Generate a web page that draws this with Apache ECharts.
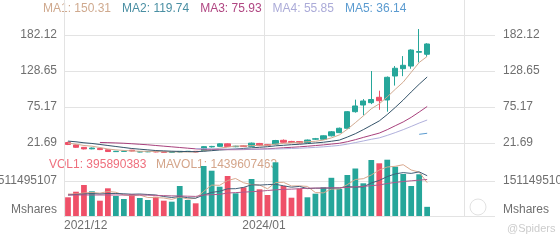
<!DOCTYPE html>
<html><head><meta charset="utf-8">
<script src="https://cdn.jsdelivr.net/npm/echarts@6/dist/echarts.min.js"></script>
<style>html,body{margin:0;padding:0;background:#fff}#c{width:560px;height:240px}</style>
</head><body><div id="c"></div>
<script>
// ---- data (monthly, starting 2021/12) ----
const startYear = 2021, startMonth = 12;
const tickLabels = ['2021/12', '2024/01'];
const priceTicks = [21.692, 75.169, 128.646, 182.123];
const volTicks = [0, 1511495107];

const openP  = [22.4,18.9,15.2,13.0,13.6,11.6,8.9,9.2,11.0,8.3,8.6,9.0,8.4,7.8,8.3,9.0,9.3,10.2,15.9,16.7,20.4,16.2,17.6,16.6,21.0,19.2,20.0,25.7,24.0,23.8,22.2,27.4,27.3,32.4,37.1,43.6,68.2,78.1,81.6,89.6,85.6,121.2,132.1,136.0,156.5,153.5];
const closeP = [19.5,15.3,12.9,14.2,11.9,9.0,9.4,9.6,9.8,8.8,9.0,8.4,7.8,8.2,9.2,9.4,8.4,16.3,16.6,20.4,16.6,16.9,16.4,21.5,17.8,18.4,25.4,22.8,22.5,21.8,26.1,28.0,32.4,38.3,43.6,68.2,76.7,84.1,86.3,84.5,119.3,132.7,137.1,159.8,157.5,168.8];
const lowP   = [18.6,14.6,12.2,12.4,11.2,8.5,8.4,8.7,9.3,7.9,8.1,7.9,7.4,7.4,7.9,8.6,8.0,9.8,15.0,16.0,15.9,15.4,15.8,16.0,17.1,17.6,19.4,22.0,21.7,21.0,21.6,26.3,26.6,31.5,36.4,42.8,66.8,63.0,79.5,71.0,68.2,107.0,121.0,132.0,141.4,149.7];
const highP  = [23.6,19.6,15.8,15.0,14.2,12.0,9.9,10.1,11.5,9.2,9.4,9.4,8.8,8.6,9.8,9.9,9.7,17.2,17.4,21.2,21.0,17.6,18.3,22.3,21.8,19.9,26.3,27.0,24.9,24.6,26.8,29.2,33.1,39.5,44.6,69.2,86.1,86.9,128.6,99.4,120.5,136.0,150.8,160.8,191.0,169.9];

const ma1 = [21.5,20.0,18.0,17.0,15.0,12.8,11.5,10.6,9.9,9.4,9.3,9.1,8.6,8.5,8.4,8.4,8.4,10.0,11.7,14.0,15.5,17.1,17.3,17.8,18.3,18.3,20.0,21.1,22.0,22.6,23.7,24.2,26.1,29.3,33.7,42.1,51.8,61.9,72.5,79.9,90.2,101.4,112.1,126.7,141.3,150.31];
const ma2 = [24.5,23.5,22.0,21.0,19.5,18.0,16.5,15.0,13.5,12.5,11.5,10.5,10.0,9.5,9.2,9.0,8.8,9.5,10.3,11.3,12.0,12.8,13.6,14.5,15.3,16.2,17.5,18.3,19.2,19.8,20.8,21.8,22.8,24.3,26.0,30.5,35.5,41.5,48.0,54.5,64.0,74.5,85.5,97.5,109.0,119.74];
const ma3 = ['-','-','-','-',22.5,22.2,21.8,21.3,20.6,19.8,19.0,18.0,17.0,16.0,15.0,14.0,13.0,12.5,12.2,12.0,11.8,11.8,11.9,12.2,12.6,13.1,13.8,14.6,15.3,16.0,16.9,17.9,18.9,20.1,21.3,23.6,26.6,30.0,33.2,36.4,41.5,47.3,53.0,59.8,67.7,75.93];
const ma4 = ['-','-','-','-','-','-','-','-','-','-','-','-','-','-','-','-',13.5,13.2,13.0,12.9,12.8,12.6,12.5,12.5,12.5,12.6,12.8,13.1,13.5,13.9,14.5,15.2,16.0,17.0,18.1,20.0,22.3,24.7,27.2,29.3,33.0,37.1,41.5,46.3,51.3,55.85];
const ma5 = ['-','-','-','-','-','-','-','-','-','-','-','-','-','-','-','-','-','-','-','-','-','-','-','-','-','-','-','-','-','-','-','-','-','-','-','-','-','-','-','-','-','-','-','-',34.6,36.14];

const volume = [808000000,1049000000,1339000000,1067000000,661000000,1196000000,864000000,734000000,937000000,777000000,691000000,833000000,661000000,618000000,1296000000,691000000,548000000,2159000000,1956000000,1265000000,1727000000,980000000,1239000000,1598000000,1153000000,907000000,2319000000,1296000000,790000000,1179000000,808000000,963000000,1239000000,1650000000,1166000000,1771000000,2051000000,1412000000,2418000000,2276000000,2431000000,2129000000,1814000000,1296000000,1801000000,395890383];
const mavol1 = [950000000,950000000,993000000,1015000000,985000000,1062000000,1024000000,907000000,877000000,903000000,799000000,795000000,777000000,717000000,821000000,734000000,764000000,1062000000,1334000000,1326000000,1533000000,1620000000,1434000000,1360000000,1339000000,1175000000,1442000000,1455000000,1296000000,1300000000,1278000000,1011000000,998000000,1166000000,1166000000,1356000000,1576000000,1611000000,1771000000,1987000000,2116000000,2146000000,2215000000,1987000000,1896000000,1439607463];
const mavol2 = [907000000,929000000,950000000,972000000,950000000,972000000,972000000,959000000,941000000,950000000,929000000,907000000,842000000,799000000,846000000,790000000,769000000,907000000,1019000000,1067000000,1175000000,1179000000,1235000000,1347000000,1334000000,1356000000,1369000000,1304000000,1244000000,1278000000,1183000000,1201000000,1201000000,1209000000,1209000000,1270000000,1244000000,1257000000,1425000000,1537000000,1702000000,1818000000,1874000000,1840000000,1905000000,1740000000];
const mavol3 = [907000000,907000000,907000000,907000000,907000000,907000000,907000000,907000000,907000000,907000000,900000000,890000000,880000000,870000000,865000000,855000000,845000000,907000000,920000000,935000000,993000000,1010000000,1030000000,1050000000,1070000000,1101000000,1130000000,1150000000,1160000000,1180000000,1201000000,1205000000,1210000000,1215000000,1220000000,1231000000,1260000000,1280000000,1310000000,1340000000,1404000000,1450000000,1490000000,1520000000,1550000000,1576000000];

// ---- colors ----
const UP = '#26a69a', DOWN = '#ef5068';
const maColors = ['#d2aa90', '#35546a', '#a8407c', '#b0b0dc', '#5b9bd0'];
const maTextColors = ['#cfa98e', '#4a8fa3', '#b04682', '#ababd8', '#5b9bd0'];
const maNames = ['MA1', 'MA2', 'MA3', 'MA4', 'MA5'];
const maData = [ma1, ma2, ma3, ma4, ma5];
const volMaColors = ['#d9a88e', '#45607a', '#b05a8c'];

// categories
function monthLabel(i) {
  let m = startMonth - 1 + i; const y = startYear + Math.floor(m / 12); m = m % 12 + 1;
  return y + '/' + (m < 10 ? '0' + m : m);
}
const nMain = 54, nBg = 51;
const cats = []; for (let i = 0; i < nMain; i++) cats.push(monthLabel(i));
const bgCats = []; for (let i = 0; i < nBg; i++) bgCats.push(monthLabel(i));

const candles = openP.map((o, i) => [o, closeP[i], lowP[i], highP[i]]);
const volBars = volume.map((v, i) => ({ value: v, itemStyle: { color: closeP[i] >= openP[i] ? UP : DOWN } }));

const chart = echarts.init(document.getElementById('c'), null, { renderer: 'canvas' });
const FONT = 'Liberation Sans, Arial, sans-serif';
const lab = { color: '#6f6f6f', fontSize: 12, fontFamily: FONT };
const lastVal = a => a[a.length - 1];

const legendRich = {};
maNames.forEach((n, k) => { legendRich['m' + k] = { fill: maTextColors[k], fontSize: 12, fontFamily: FONT, padding: [0, 11, 0, 0] }; });
const legendText = maNames.map((n, k) => '{m' + k + '|' + n + ': ' + lastVal(maData[k]).toFixed(2) + '}').join('');

const priceAxis = (pos) => ({
  type: 'value', gridIndex: 0, position: pos, min: priceTicks[0], max: priceTicks[3],
  interval: priceTicks[1] - priceTicks[0],
  axisLine: { show: false }, axisTick: { show: false },
  splitLine: { show: pos === 'left', lineStyle: { color: '#e3e3e3' } },
  axisLabel: Object.assign({ margin: pos === 'left' ? 7 : 8, formatter: v => v.toFixed(2) }, lab)
});
const volAxis = (pos) => ({
  type: 'value', gridIndex: 1, position: pos, min: volTicks[0], max: volTicks[1], interval: volTicks[1] - volTicks[0],
  axisLine: { show: false }, axisTick: { show: false },
  splitLine: { show: pos === 'left', lineStyle: { color: '#e3e3e3' } },
  axisLabel: Object.assign({ margin: pos === 'left' ? 7 : 8, verticalAlignMinLabel: 'bottom', formatter: v => v === 0 ? 'Mshares' : String(v) }, lab)
});

const series = [
  { type: 'candlestick', xAxisIndex: 0, yAxisIndex: 0, data: candles, barWidth: '72%', clip: false,
    itemStyle: { color: UP, color0: DOWN, borderColor: UP, borderColor0: DOWN, borderColorDoji: UP, borderWidth: 1 } },
];
maData.forEach((d, k) => series.push({ type: 'line', xAxisIndex: 0, yAxisIndex: 0, data: d, showSymbol: false, clip: false,
  lineStyle: { width: 1, color: maColors[k] }, silent: true }));
series.push({ type: 'bar', xAxisIndex: 1, yAxisIndex: 2, data: volBars, barWidth: '72%', clip: false });
[mavol1, mavol2, mavol3].forEach((d, k) => series.push({ type: 'line', xAxisIndex: 1, yAxisIndex: 2, data: d, showSymbol: false, clip: false,
  lineStyle: { width: 1, color: volMaColors[k] }, silent: true }));

chart.setOption({
  animation: false,
  backgroundColor: '#fff',
  grid: [
    { left: 64, right: 65, top: 35, height: 108, outerBoundsMode: 'none', containLabel: false },
    { left: 64, right: 65, top: 181, height: 35, outerBoundsMode: 'none', containLabel: false },
    { left: 64, right: 96, top: 0, height: 216, outerBoundsMode: 'none', containLabel: false }
  ],
  xAxis: [
    { type: 'category', gridIndex: 0, data: cats, boundaryGap: true, axisLine: { show: false }, axisTick: { show: false }, axisLabel: { show: false }, splitLine: { show: false } },
    { type: 'category', gridIndex: 1, data: cats, boundaryGap: true, axisLine: { show: false }, axisTick: { show: false }, axisLabel: { show: false }, splitLine: { show: false } },
    { type: 'category', gridIndex: 2, data: bgCats, boundaryGap: false, axisLine: { show: false }, axisTick: { show: false },
      splitLine: { show: true, interval: 24, lineStyle: { color: '#e3e3e3' } },
      axisLabel: Object.assign({ interval: 24, margin: 4, alignMinLabel: 'left', formatter: v => tickLabels.indexOf(v) >= 0 ? v : '' }, lab) }
  ],
  yAxis: [
    priceAxis('left'), priceAxis('right'), volAxis('left'), volAxis('right'),
    { type: 'value', gridIndex: 2, show: false, min: 0, max: 1 }
  ],
  graphic: [
    { type: 'text', left: 43, top: 3, style: { rich: legendRich, text: legendText } },
    { type: 'text', left: 49, top: 159, style: { text: 'VOL1: ' + lastVal(volume), fill: '#ef6f7d', font: '12px ' + FONT } },
    { type: 'text', left: 156, top: 159, style: { text: 'MAVOL1: ' + lastVal(mavol1), fill: '#d4a58a', font: '12px ' + FONT } },
    { type: 'circle', shape: { cx: 478, cy: 207, r: 8 }, style: { fill: 'none', stroke: '#e2e2e2', lineWidth: 1 } },
    { type: 'text', left: 507, top: 223, style: { text: '@Spiders', fill: '#cccccc', font: '11px ' + FONT } }
  ],
  series
});
</script></body></html>
